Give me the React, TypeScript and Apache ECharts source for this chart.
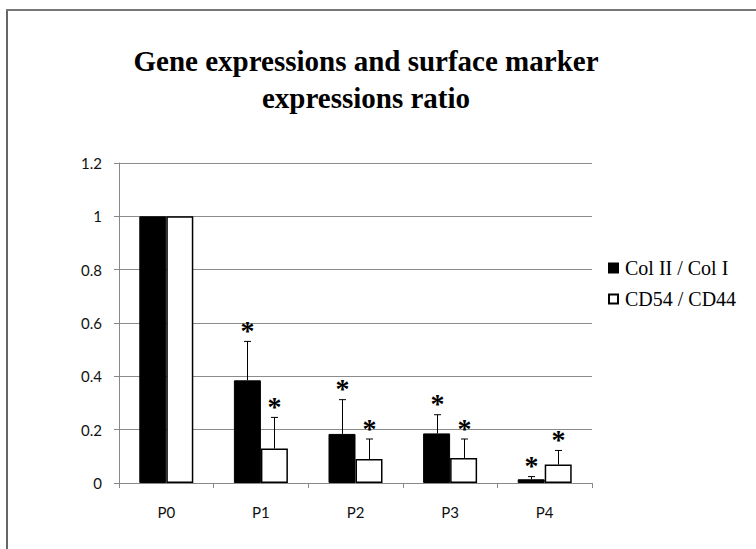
import React, { useEffect, useRef } from "react";
import * as echarts from "echarts";

const categories = ["P0", "P1", "P2", "P3", "P4"];
const colValues = [1, 0.385, 0.184, 0.186, 0.014];
const colErrTop = [null, 0.531, 0.3125, 0.256, 0.024];
const cdValues = [1, 0.129, 0.09, 0.094, 0.069];
const cdErrTop = [null, 0.246, 0.165, 0.165, 0.122];
const colStar = [false, true, true, true, true];
const cdStar = [false, true, true, true, true];
const yTicks = { min: 0, max: 1.2, interval: 0.2 };
const seriesNames = ["Col II / Col I", "CD54 / CD44"];
const titleText = "Gene expressions and surface marker\nexpressions ratio";

const BAR_W = 27;

export default function App() {
  const ref = useRef<HTMLDivElement>(null);
  useEffect(() => {
    document.body.style.margin = "0";
    if (!ref.current) return;
    const chart = echarts.init(ref.current, undefined, { renderer: "svg" });

    const errData: any[] = [];
    categories.forEach((_, i) => {
      if (colErrTop[i] != null) errData.push([i, colValues[i], colErrTop[i], -BAR_W / 2, colStar[i] ? 1 : 0]);
      if (cdErrTop[i] != null) errData.push([i, cdValues[i], cdErrTop[i], BAR_W / 2, cdStar[i] ? 1 : 0]);
    });

    chart.setOption({
      animation: false,
      backgroundColor: "#ffffff",
      title: {
        text: titleText,
        left: 366,
        top: 42,
        textAlign: "center",
        padding: 0,
        textStyle: {
          fontFamily: "Liberation Serif",
          fontWeight: "bold",
          fontSize: 29,
          lineHeight: 37,
          color: "#000",
        },
      },
      graphic: [
        { type: "line", shape: { x1: 7, y1: 10, x2: 7, y2: 560 }, style: { stroke: "#666", lineWidth: 2 } },
        { type: "line", shape: { x1: 6, y1: 10, x2: 760, y2: 10 }, style: { stroke: "#777", lineWidth: 2 } },
      ],
      legend: {
        data: seriesNames,
        orient: "vertical",
        left: 608,
        top: 258,
        padding: 0,
        icon: "rect",
        itemWidth: 9,
        itemHeight: 9,
        itemGap: 11,
        textStyle: { fontFamily: "Liberation Serif", fontSize: 20, color: "#000", padding: [0, 0, 0, 2] },
      },
      grid: { left: 119, top: 163, width: 473, height: 320 },
      xAxis: {
        type: "category",
        data: categories,
        axisLine: { lineStyle: { color: "#888", width: 1 } },
        axisTick: { show: true, length: 5, lineStyle: { color: "#888" } },
        axisLabel: { margin: 21, fontFamily: "Lato", fontSize: 15, color: "#111" },
      },
      yAxis: {
        type: "value",
        min: yTicks.min,
        max: yTicks.max,
        interval: yTicks.interval,
        axisLine: { show: true, lineStyle: { color: "#888", width: 1 } },
        axisTick: { show: true, length: 5, lineStyle: { color: "#888" } },
        splitLine: { lineStyle: { color: "#8c8c8c", width: 1 } },
        axisLabel: {
          margin: 17,
          fontFamily: "Lato",
          fontSize: 15,
          color: "#111",
          formatter: (v: number) => String(Math.round(v * 10) / 10),
        },
      },
      series: [
        {
          name: seriesNames[0],
          type: "bar",
          data: colValues,
          barWidth: BAR_W,
          barGap: "0%",
          itemStyle: { color: "#000", borderColor: "#000", borderWidth: 1 },
        },
        {
          name: seriesNames[1],
          type: "bar",
          data: cdValues,
          barWidth: BAR_W,
          barGap: "0%",
          itemStyle: { color: "#fff", borderColor: "#000", borderWidth: 1.5 },
        },
        {
          type: "custom",
          name: "err",
          data: errData,
          encode: { x: 0, y: [1, 2] },
          z: 5,
          renderItem: (params: any, api: any) => {
            const idx = api.value(0);
            const v = api.value(1);
            const t = api.value(2);
            const off = api.value(3);
            const star = api.value(4);
            const p0 = api.coord([idx, v]);
            const p1 = api.coord([idx, t]);
            const x = Math.round(p0[0] + off) + 0.5;
            const children: any[] = [
              { type: "line", shape: { x1: x, y1: p0[1], x2: x, y2: p1[1] }, style: { stroke: "#000", lineWidth: 1 } },
              { type: "line", shape: { x1: x - 3.5, y1: p1[1], x2: x + 3.5, y2: p1[1] }, style: { stroke: "#000", lineWidth: 1 } },
            ];
            if (star) {
              children.push({
                type: "text",
                style: {
                  text: "*",
                  x: x,
                  y: p1[1] + 3,
                  align: "center",
                  verticalAlign: "bottom",
                  font: "bold 28px 'Liberation Serif'",
                  fill: "#000",
                },
              });
            }
            return { type: "group", children };
          },
        },
      ],
    });
    return () => chart.dispose();
  }, []);
  return <div ref={ref} style={{ width: 756, height: 549 }} />;
}
